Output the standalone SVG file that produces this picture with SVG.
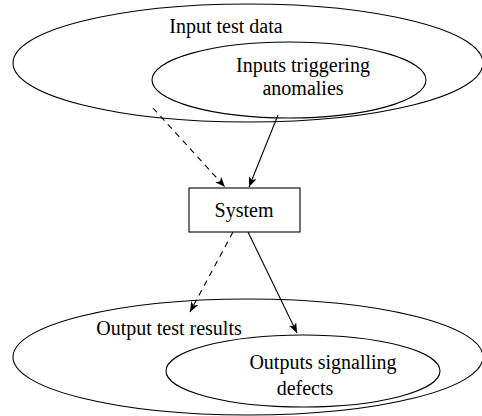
<svg xmlns="http://www.w3.org/2000/svg" width="482" height="416" viewBox="0 0 482 416">
<style>
.sh{fill:none;stroke:#000;stroke-width:1.1}
.t{font-family:"Liberation Serif","Times New Roman",serif;font-size:20px;fill:#000}
.c{stroke:#000;stroke-width:1.1;fill:none}
.d{stroke-dasharray:6,5}
</style>
<defs>
<marker id="ah" viewBox="0 0 10 8" refX="10" refY="4" markerWidth="10" markerHeight="8" markerUnits="userSpaceOnUse" orient="auto">
<path d="M0,0 L10,4 L0,8 L2.5,4 Z" fill="#000"/>
</marker>
</defs>
<g id="input-test-data">
<ellipse class="sh" cx="248" cy="63" rx="235" ry="59"/>
<text class="t" x="226" y="33" text-anchor="middle">Input test data</text>
</g>
<g id="inputs-triggering-anomalies">
<ellipse class="sh" cx="289" cy="80" rx="137" ry="38"/>
<text class="t" x="303" y="72" text-anchor="middle">Inputs triggering</text>
<text class="t" x="303" y="95" text-anchor="middle">anomalies</text>
</g>
<g id="system">
<rect class="sh" x="189" y="188" width="111" height="44"/>
<text class="t" x="244" y="217" text-anchor="middle">System</text>
</g>
<g id="output-test-results">
<ellipse class="sh" cx="248" cy="357" rx="235" ry="58"/>
<text class="t" x="169" y="335" text-anchor="middle">Output test results</text>
</g>
<g id="outputs-signalling-defects">
<ellipse class="sh" cx="303" cy="371" rx="137" ry="36"/>
<text class="t" x="323" y="369" text-anchor="middle">Outputs signalling</text>
<text class="t" x="305" y="395" text-anchor="middle">defects</text>
</g>
<g id="connectors">
<line class="c d" x1="153" y1="108" x2="225" y2="187" marker-end="url(#ah)"/>
<line class="c" x1="278" y1="115" x2="249" y2="187" marker-end="url(#ah)"/>
<line class="c d" x1="233" y1="232" x2="190" y2="312" marker-end="url(#ah)"/>
<line class="c" x1="248" y1="232" x2="297" y2="333" marker-end="url(#ah)"/>
</g>
</svg>
